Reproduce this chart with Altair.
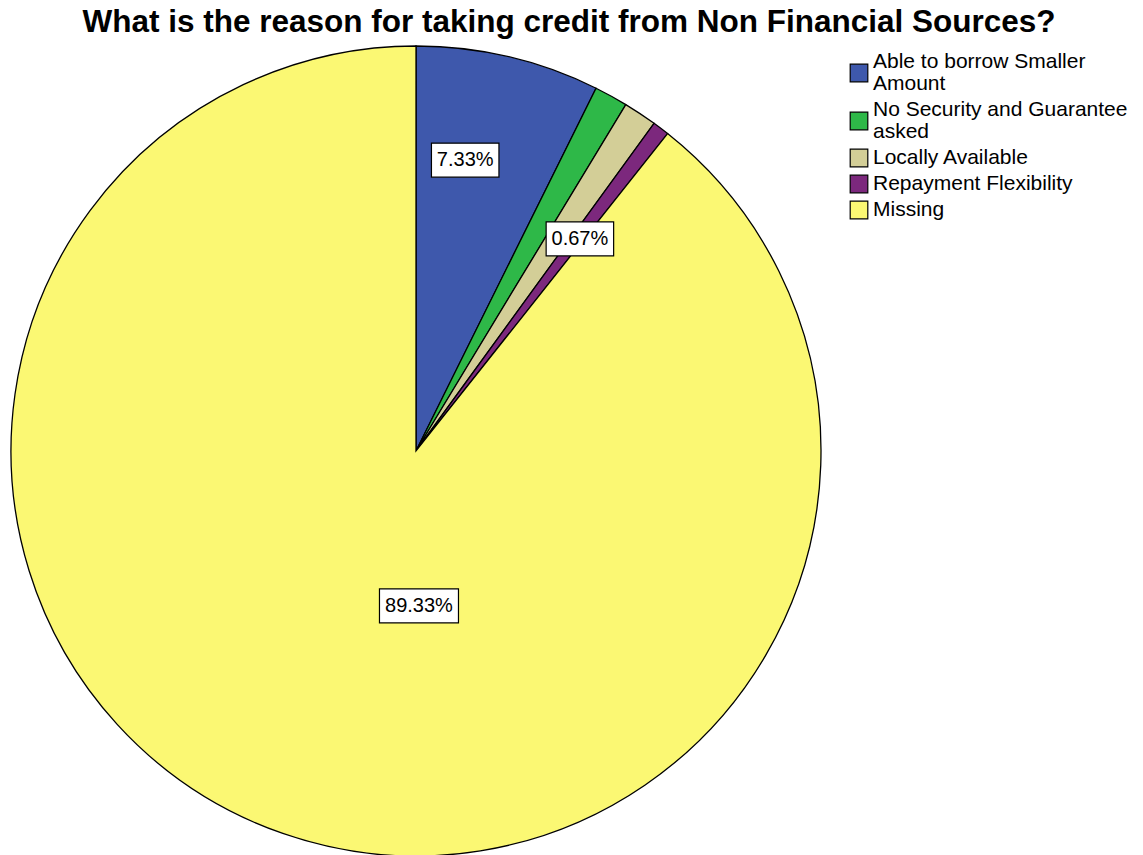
import altair as alt
import pandas as pd
import math

# ---- data ----
categories = ["Able to borrow Smaller Amount", "No Security and Guarantee asked",
              "Locally Available", "Repayment Flexibility", "Missing"]
legend_labels = ["Able to borrow Smaller\nAmount", "No Security and Guarantee\nasked",
                 "Locally Available", "Repayment Flexibility", "Missing"]
counts = [11, 2, 2, 1, 134]
percent_labels = ["7.33%", "", "", "0.67%", "89.33%"]
colors = ["#3E58AC", "#2EB848", "#D3CE97", "#7C287D", "#FBF873"]

# ---- layout/style ----
W, H = 1143, 855
CX, CY, R = 416, 451, 405
label_style = {  # radius in px, angle shift in degrees
    "Able to borrow Smaller Amount": (295, -3.6),
    "Repayment Flexibility": (268, 0.5),
    "Missing": (155, -20.3),
}

df = pd.DataFrame({"cat": categories, "n": counts, "order": range(len(categories)),
                   "pct": percent_labels})
total = sum(counts)
cum = 0
lx, ly, bw = [], [], []
for c, n, p in zip(categories, counts, percent_labels):
    mid = (cum + n / 2) / total * 2 * math.pi
    cum += n
    r, shift = label_style.get(c, (0, 0))
    a = mid + math.radians(shift)
    lx.append(CX + r * math.sin(a))
    ly.append(CY - r * math.cos(a))
    bw.append(len(p) * 11.5 + 10)
df["lx"] = lx
df["ly"] = ly
df["x1"] = df["lx"] - pd.Series(bw) / 2
df["x2"] = df["lx"] + pd.Series(bw) / 2
df["y1"] = df["ly"] - 17
df["y2"] = df["ly"] + 17

# legend rows
LH = 22
leg_rows = []
yc = 62
for lab, col in zip(legend_labels, colors):
    nl = lab.count("\n") + 1
    leg_rows.append({"label": lab, "color": col, "yt": yc, "ys": yc + LH * (nl - 1) / 2})
    yc += LH * (nl - 1) + 26
leg = pd.DataFrame(leg_rows)

color_scale = alt.Scale(domain=categories, range=colors)

pie = alt.Chart(df).mark_arc(radius=R, stroke="black", strokeWidth=1.3).encode(
    theta=alt.Theta("n:Q", stack=True),
    color=alt.Color("cat:N", scale=color_scale, legend=None),
    order=alt.Order("order:Q"),
    x=alt.value(CX), y=alt.value(CY),
)

lab_df = alt.Chart(df).transform_filter("datum.pct != ''")
boxes = lab_df.mark_rect(fill="white", stroke="black", strokeWidth=1.2).encode(
    x=alt.X("x1:Q", scale=None), x2="x2:Q",
    y=alt.Y("y1:Q", scale=None), y2="y2:Q",
)
texts = lab_df.mark_text(font="Liberation Sans", fontSize=20, color="black",
                         baseline="middle", align="center").encode(
    x=alt.X("lx:Q", scale=None), y=alt.Y("ly:Q", scale=None), text="pct:N")

leg_sq = alt.Chart(leg).mark_square(size=310, opacity=1, stroke="black", strokeWidth=1.2).encode(
    x=alt.value(859), y=alt.Y("ys:Q", scale=None),
    fill=alt.Fill("color:N", scale=None),
)
leg_tx = alt.Chart(leg).mark_text(font="Liberation Sans", fontSize=21, align="left",
                                  baseline="middle", lineBreak="\n", lineHeight=LH,
                                  color="black").encode(
    x=alt.value(873), y=alt.Y("yt:Q", scale=None), text="label:N")

title = alt.Chart(pd.DataFrame({"t": ["What is the reason for taking credit from Non Financial Sources?"]})).mark_text(
    font="Liberation Sans", fontSize=31.5, fontWeight="bold", align="center", baseline="middle",
    color="black").encode(x=alt.value(569), y=alt.value(23), text="t:N")

chart = alt.layer(pie, boxes, texts, leg_sq, leg_tx, title).properties(
    width=W, height=H, autosize=alt.AutoSizeParams(type="none"), padding=0,
    background="white",
).configure_view(stroke=None)

chart.save("out.html", embed_options={"renderer": "svg", "actions": False})
